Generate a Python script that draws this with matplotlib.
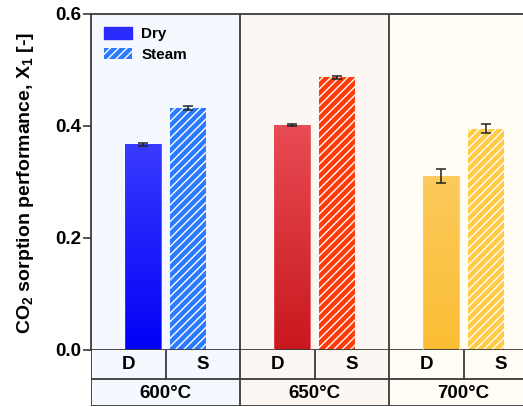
import numpy as np
import matplotlib
matplotlib.use("Agg")
import matplotlib.pyplot as plt
from matplotlib.patches import Patch, Rectangle
from matplotlib.colors import LinearSegmentedColormap

plt.rcParams['font.family'] = ['Liberation Sans', 'DejaVu Sans']
plt.rcParams['font.weight'] = 'bold'
plt.rcParams['mathtext.fontset'] = 'custom'
plt.rcParams['mathtext.rm'] = 'Liberation Sans:bold'
plt.rcParams['mathtext.bf'] = 'Liberation Sans:bold'
plt.rcParams['mathtext.default'] = 'bf'
plt.rcParams['hatch.linewidth'] = 1.0

# Data
temps = ['600°C', '650°C', '700°C']
dry = [0.367, 0.402, 0.311]
dry_err = [0.003, 0.002, 0.012]
steam = [0.432, 0.487, 0.395]
steam_err = [0.004, 0.003, 0.008]
sub_labels = ['D', 'S']

# Colours
bg_colors = ['#f5f9ff', '#fdf7f4', '#fffdf4']
dry_top = ['#3a3aff', '#e84c54', '#fdca5c']
dry_bottom = ['#0000f6', '#c8181e', '#fbbd34']
steam_colors = ['#2a7bff', '#ff3c05', '#ffcb45']
line_c = '#3a3a3a'

W, H = 523, 407
fig = plt.figure(figsize=(W / 100, H / 100), dpi=100)

# axes extends past the right edge like the cropped original
ax_l, ax_r, ax_t, ax_b = 91, 538, 14, 350
ax = fig.add_axes([ax_l / W, 1 - ax_b / H, (ax_r - ax_l) / W, (ax_b - ax_t) / H])
tab = fig.add_axes([ax_l / W, 1 - 406 / H, (ax_r - ax_l) / W, (406 - ax_b) / H])

bw = 0.235
off = 0.151
for i in range(3):
    ax.axvspan(i, i + 1, color=bg_colors[i], zorder=0, lw=0)
    xd = i + 0.5 - off
    xs = i + 0.5 + off
    # dry bar with vertical gradient
    b = ax.bar(xd, dry[i], bw, color='none', edgecolor=dry_top[i], lw=0.6, zorder=3)[0]
    cmap = LinearSegmentedColormap.from_list('g%d' % i, [dry_bottom[i], dry_top[i]])
    grad = np.linspace(0, 1, 256).reshape(-1, 1)
    im = ax.imshow(grad, extent=[xd - bw / 2, xd + bw / 2, 0, dry[i]], origin='lower',
                   cmap=cmap, aspect='auto', zorder=2)
    im.set_clip_path(b)
    ax.errorbar(xd, dry[i], yerr=dry_err[i], fmt='none', ecolor='#222222',
                elinewidth=1.1, capsize=3.5, capthick=1.1, zorder=4)
    # steam bar hatched
    ax.bar(xs, steam[i], bw, color=steam_colors[i], edgecolor='white', hatch='////',
           lw=0, zorder=2)
    ax.errorbar(xs, steam[i], yerr=steam_err[i], fmt='none', ecolor='#222222',
                elinewidth=1.1, capsize=3.5, capthick=1.1, zorder=4)

for x in [1, 2]:
    ax.axvline(x, color=line_c, lw=1.3, zorder=5)

ax.set_xlim(0, 3)
ax.set_ylim(0, 0.6)
ax.set_xticks([])
ax.set_yticks([0.0, 0.2, 0.4, 0.6])
ax.set_yticklabels(['0.0', '0.2', '0.4', '0.6'], fontsize=13.5, fontweight='bold')
ax.tick_params(axis='y', length=5.5, width=1.2, color=line_c, pad=1.5)
for s in ['left', 'top', 'bottom']:
    ax.spines[s].set_color(line_c)
    ax.spines[s].set_linewidth(1.3)
ax.spines['right'].set_visible(False)
ax.set_ylabel('CO$_2$ sorption performance, X$_1$ [-]', fontsize=14, fontweight='bold')
ax.yaxis.set_label_coords(-0.122, 0.497)

handles = [Patch(facecolor='#2b2bff', edgecolor='#2b2bff', label='Dry'),
           Patch(facecolor=steam_colors[0], edgecolor='white', hatch='////', lw=0, label='Steam')]
ax.legend(handles=handles, loc='upper left', bbox_to_anchor=(13 / 447, (350 - 27) / 336),
          frameon=False, borderpad=0, borderaxespad=0, handlelength=1.85, handleheight=0.8,
          handletextpad=0.6, labelspacing=0.42, prop={'weight': 'bold', 'size': 11})

# category table below the plot
tab.set_xlim(0, 3)
tab.set_ylim(0, 56)
tab.axis('off')
for i in range(3):
    tab.add_patch(Rectangle((i, 0), 1, 56, color=bg_colors[i], lw=0, zorder=0))
    tab.text(i + 0.5, 13.0, temps[i], ha='center', va='center', fontsize=13.5, fontweight='bold')
    for j, lab in enumerate(sub_labels):
        tab.text(i + 0.25 + 0.5 * j, 41.5, lab, ha='center', va='center', fontsize=13.5,
                 fontweight='bold')
    tab.plot([i + 0.5, i + 0.5], [27, 56], color=line_c, lw=1.3)
for x in [0, 1, 2]:
    tab.plot([x, x], [0, 56], color=line_c, lw=1.3)
for y in [0.5, 27]:
    tab.plot([0, 3], [y, y], color=line_c, lw=1.3)

fig.savefig('out.png', dpi=100)
